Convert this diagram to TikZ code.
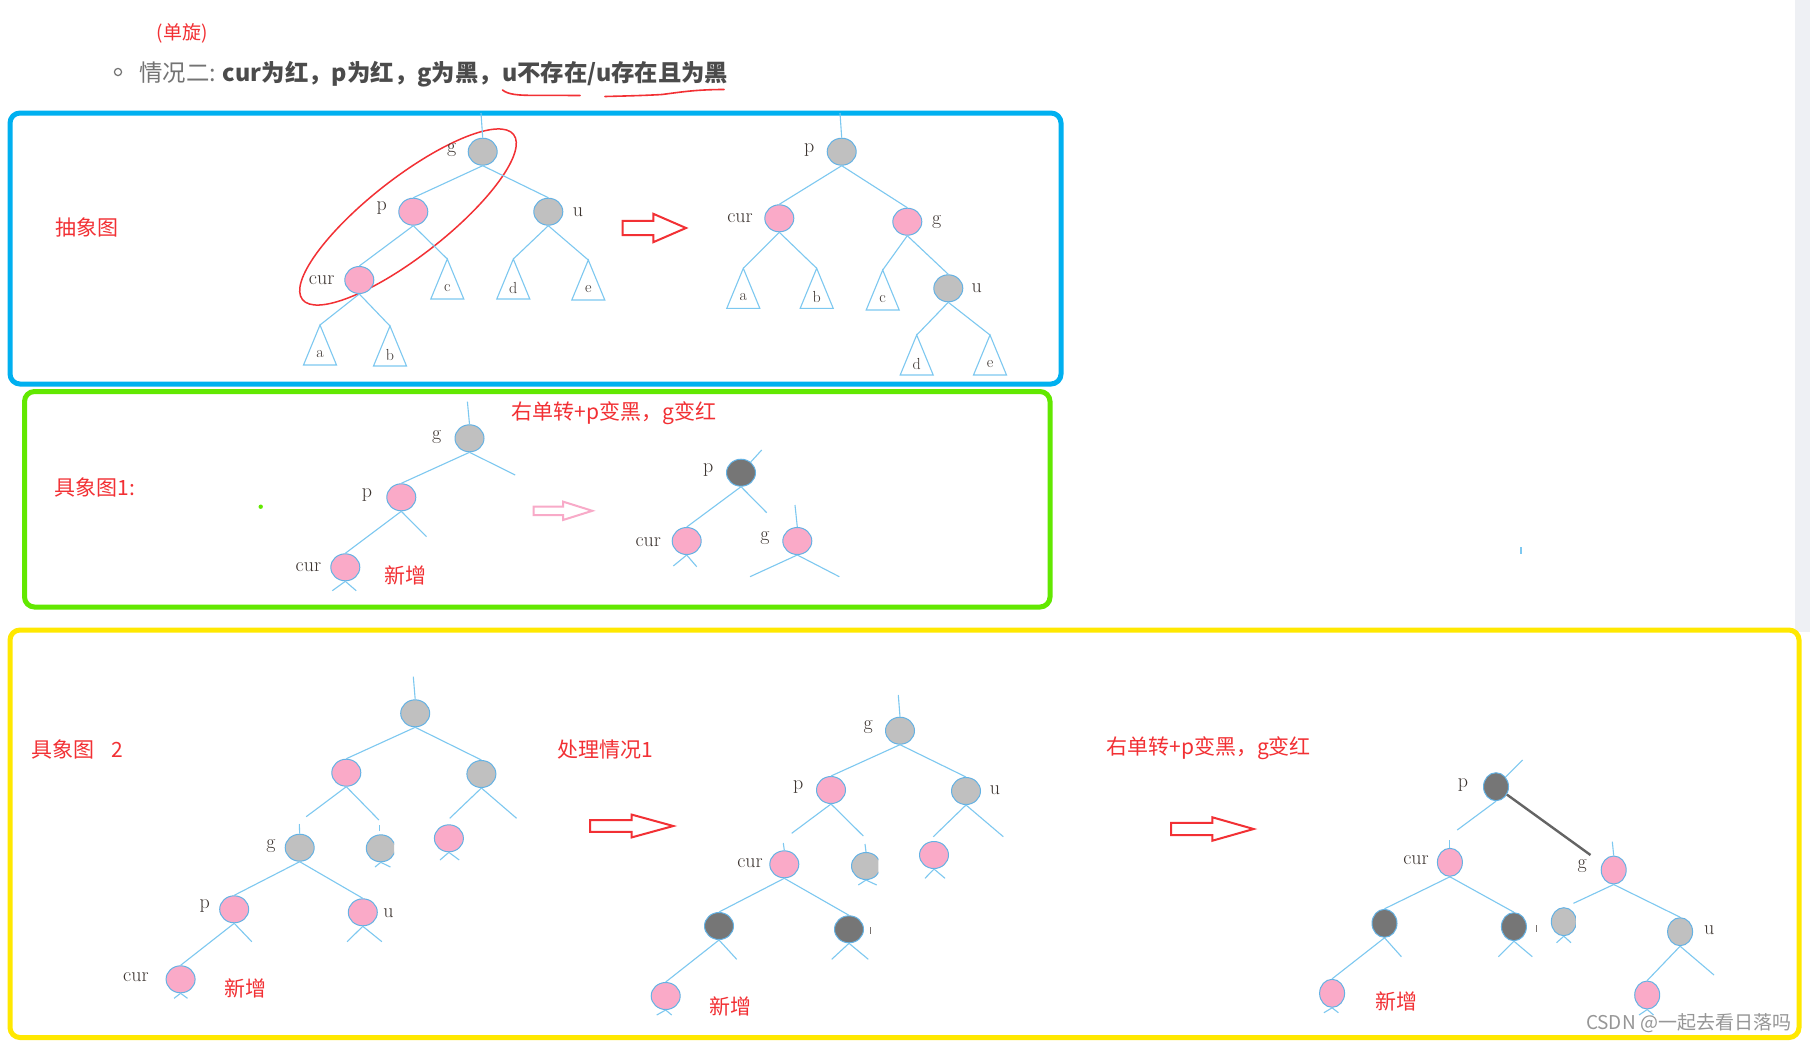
\documentclass[tikz,border=0pt]{standalone}
\usepackage{fontspec}
\newfontfamily\cjk{Noto Sans CJK SC}
\usetikzlibrary{shapes.geometric}
\definecolor{redc}{RGB}{242,48,52}
\definecolor{bluefr}{RGB}{0,176,240}
\definecolor{greenfr}{RGB}{98,232,0}
\definecolor{yellowfr}{RGB}{255,232,0}
\definecolor{edgeblue}{RGB}{125,200,240}
\definecolor{nodeborder}{RGB}{100,178,228}
\definecolor{nodegrey}{RGB}{192,192,192}
\definecolor{nodepink}{RGB}{250,170,200}
\definecolor{nodedark}{RGB}{118,118,118}
\definecolor{labelc}{RGB}{60,52,48}
\definecolor{hdrlight}{RGB}{115,115,115}
\definecolor{hdrdark}{RGB}{75,75,75}
\definecolor{stripc}{RGB}{238,240,244}
\definecolor{wmark}{RGB}{150,150,150}
\definecolor{pinkarrow}{RGB}{248,170,200}
\tikzset{
  tedge/.style={draw=edgeblue, line width=1.1pt},
  rbnode/.style={ellipse, draw=nodeborder, line width=1pt, inner sep=0pt, minimum width=29pt, minimum height=27pt},
  gnode/.style={rbnode, fill=nodegrey},
  pnode/.style={rbnode, fill=nodepink},
  dnode/.style={rbnode, fill=nodedark},
  narrow/.style={minimum width=25pt, minimum height=28pt},
  lbl/.style={font=\fontsize{20}{23}\selectfont, text=labelc, inner sep=0pt},
  tlbl/.style={font=\fontsize{16}{18}\selectfont, text=labelc, inner sep=0pt},
  redtxt/.style={font=\cjk\fontsize{21}{24}\selectfont, text=redc, inner sep=0pt},
  boxframe/.style={rounded corners=10pt, line width=5pt},
  harrow/.style={draw=redc, line width=2pt, fill=white, line join=miter},
}
% triangle subtree: name, apex x, apex y, label
\newcommand{\subtri}[4]{%
  \coordinate (#1) at (#2,#3);
  \draw[tedge] (#1) -- ++(-16.5,40) -- ++(33,0) -- cycle;
  \node[tlbl] (#1-l) at (#2,#3+29) {#4};}
% free edge from a node's bottom: name, node, x,y
\newcommand{\twig}[3]{%
  \coordinate (#1) at (#3);
  \draw[tedge] (#2.south) -- (#1);}
% hollow block arrow: x0, xh, xt, yc, body half, head half, colour
\newcommand{\blockarrow}[7]{%
  \draw[harrow, draw=#7] (#1,#4-#5) -- (#2,#4-#5) -- (#2,#4-#6) -- (#3,#4) -- (#2,#4+#6) -- (#2,#4+#5) -- (#1,#4+#5) -- cycle;}
\begin{document}
\begin{tikzpicture}[x=1pt,y=-1pt]
\useasboundingbox (0,0) rectangle (1810,1042);
\fill[white] (0,0) rectangle (1810,1042);
\fill[stripc] (1795,0) rectangle (1810,632);

% ---------------- header ----------------
\node[font=\cjk\fontsize{19}{22}\selectfont, text=redc, inner sep=0pt] (title) at (182,33) {(单旋)};
\draw[hdrlight, line width=1.2pt] (118,72) circle[radius=3.6pt];
\node[anchor=west, font=\cjk\fontsize{23.4}{26}\selectfont, inner sep=0pt] (case) at (139,74)
  {{\color{hdrlight}情况二:} {\bfseries\color{hdrdark}cur为红，p为红，g为黑，u不存在/u存在且为黑}};
\draw[redc, line width=1.6pt, line cap=round] (502.5,90) .. controls (508,94.5) and (518,95.5) .. (535,95.3) -- (580,95.5);
\draw[redc, line width=1.6pt, line cap=round] (605,96.5) .. controls (625,96) and (645,95.5) .. (662,94.5) .. controls (678,92.5) and (695,89.5) .. (724,89.5);

% ---------------- frames ----------------
\draw[boxframe, draw=bluefr] (10,113) rectangle (1061,384);
\draw[boxframe, draw=greenfr] (24.5,391.5) rectangle (1050,607);
\draw[boxframe, draw=yellowfr] (10,630) rectangle (1799,1037.5);

% ---------------- blue: abstract ----------------
\node[redtxt] (abs) at (87,227) {抽象图};
\draw[redc, line width=1.5pt, rotate around={38:(408,217)}] (408,217) ellipse [x radius=134pt, y radius=39pt];

\coordinate (B1top) at (481,113);
\node[gnode] (B1g) at (482.7,151.7) {};
\node[pnode] (B1p) at (413.3,211.7) {};
\node[gnode] (B1u) at (548.3,211.7) {};
\node[pnode] (B1cur) at (359.3,280) {};
\node[lbl] (B1gl) at (451.7,150) {g};
\node[lbl] (B1pl) at (381.7,208) {p};
\node[lbl] (B1ul) at (578,211.7) {u};
\node[lbl] (B1curl) at (321.7,280) {cur};
\subtri{B1a}{320}{325}{a}
\subtri{B1b}{390}{326}{b}
\subtri{B1c}{447.3}{259}{c}
\subtri{B1d}{513.3}{259}{d}
\subtri{B1e}{588.3}{260}{e}
\draw[tedge] (B1top) -- (B1g.north);
\draw[tedge] (B1g.south) -- (B1p.north);
\draw[tedge] (B1g.south) -- (B1u.north);
\draw[tedge] (B1p.south) -- (B1cur.north);
\draw[tedge] (B1p.south) -- (B1c);
\draw[tedge] (B1u.south) -- (B1d);
\draw[tedge] (B1u.south) -- (B1e);
\draw[tedge] (B1cur.south) -- (B1a);
\draw[tedge] (B1cur.south) -- (B1b);

\blockarrow{622.7}{653.3}{686}{228}{7.2}{14.2}{redc}

\coordinate (B2top) at (840,113);
\node[gnode] (B2p) at (841.7,151.7) {};
\node[pnode] (B2cur) at (779.3,218.3) {};
\node[pnode] (B2g) at (907.3,221.7) {};
\node[gnode] (B2u) at (948.3,288.3) {};
\node[lbl] (B2pl) at (809.3,150) {p};
\node[lbl] (B2curl) at (740,218.3) {cur};
\node[lbl] (B2gl) at (936.7,221.7) {g};
\node[lbl] (B2ul) at (976.7,288.3) {u};
\subtri{B2a}{743.3}{268.3}{a}
\subtri{B2b}{816.7}{268.3}{b}
\subtri{B2c}{882.7}{270}{c}
\subtri{B2d}{916.7}{335}{d}
\subtri{B2e}{990}{335}{e}
\draw[tedge] (B2top) -- (B2p.north);
\draw[tedge] (B2p.south) -- (B2cur.north);
\draw[tedge] (B2p.south) -- (B2g.north);
\draw[tedge] (B2cur.south) -- (B2a);
\draw[tedge] (B2cur.south) -- (B2b);
\draw[tedge] (B2g.south) -- (B2c);
\draw[tedge] (B2g.south) -- (B2u.north);
\draw[tedge] (B2u.south) -- (B2d);
\draw[tedge] (B2u.south) -- (B2e);

% ---------------- green: concrete 1 ----------------
\node[redtxt] (con1) at (95,487.5) {具象图1:};
\fill[greenfr] (260.7,506.7) circle[radius=2.2pt];
\node[redtxt] (rot1) at (614,413) {右单转+p变黑，g变红};
\node[redtxt] (new1) at (405,575) {新增};

\coordinate (G1top) at (467.4,401.7);
\node[gnode] (G1g) at (469.5,438.3) {};
\node[pnode] (G1p) at (401.3,497.3) {};
\node[pnode] (G1cur) at (345.3,567.3) {};
\node[lbl] (G1gl) at (436.7,436.7) {g};
\node[lbl] (G1pl) at (367.1,495) {p};
\node[lbl] (G1curl) at (308.4,566.7) {cur};
\draw[tedge] (G1top) -- (G1g.north);
\draw[tedge] (G1g.south) -- (G1p.north);
\twig{G1gr}{G1g}{515.2,475}
\draw[tedge] (G1p.south) -- (G1cur.north);
\twig{G1pr}{G1p}{426.5,536.7}
\twig{G1c1}{G1cur}{332.3,590.7}
\twig{G1c2}{G1cur}{356.2,590.7}

\blockarrow{533.6}{563}{592.3}{510.8}{4.2}{9.2}{pinkarrow}

\node[dnode] (G2p) at (741,472.7) {};
\node[pnode] (G2cur) at (686.7,541) {};
\node[pnode] (G2g) at (797.3,541) {};
\node[lbl] (G2pl) at (708.3,470) {p};
\node[lbl] (G2curl) at (648.3,541.7) {cur};
\node[lbl] (G2gl) at (765,538.3) {g};
\coordinate (G2pt) at (761.7,450);
\draw[tedge] (G2p) -- (G2pt);
\draw[tedge] (G2p.south) -- (G2cur.north);
\twig{G2pr}{G2p}{766.7,512.7}
\twig{G2c1}{G2cur}{673.3,566}
\twig{G2c2}{G2cur}{696.7,566.7}
\coordinate (G2gt) at (795,505);
\draw[tedge] (G2gt) -- (G2g.north);
\twig{G2g1}{G2g}{750,576.7}
\twig{G2g2}{G2g}{839.3,576.7}

% ---------------- yellow: concrete 2 ----------------
\node[redtxt] (con2) at (77,749) {具象图\hspace{17pt}2};
\node[redtxt] (case1) at (605.5,750) {处理情况1};
\node[redtxt] (rot2) at (1208.7,748.3) {右单转+p变黑，g变红};
\node[redtxt] (new2) at (245,988.3) {新增};
\node[redtxt] (new3) at (730,1006) {新增};
\node[redtxt] (new4) at (1396.6,1001.7) {新增};
\node[font=\cjk\fontsize{19}{22}\selectfont, text=wmark, inner sep=0pt] (wm) at (1688.5,1023.3) {CSDN @一起去看日落吗};

% left tree
\coordinate (Y1top) at (413.3,676.7);
\node[gnode] (Y1r) at (415.2,713.3) {};
\node[pnode] (Y1L) at (346.3,772.7) {};
\node[gnode] (Y1R) at (481.4,774) {};
\draw[tedge] (Y1top) -- (Y1r.north);
\draw[tedge] (Y1r.south) -- (Y1L.north);
\draw[tedge] (Y1r.south) -- (Y1R.north);
\twig{Y1L1}{Y1L}{306.2,816.7}
\twig{Y1L2}{Y1L}{378.9,820}
\twig{Y1R1}{Y1R}{449.7,818.3}
\twig{Y1R2}{Y1R}{516.6,818.3}
\node[pnode] (Y1pk) at (448.9,838.3) {};
\twig{Y1pk1}{Y1pk}{440,860}
\twig{Y1pk2}{Y1pk}{459.2,860}
\node[gnode] (Y1g) at (299.7,847.7) {};
\node[lbl] (Y1gl) at (271,845.7) {g};
\coordinate (Y1gs) at (299.3,824);
\draw[tedge] (Y1gs) -- (Y1g.north);
\begin{scope}
  \clip (360,820) rectangle (394.2,880);
  \node[gnode] (Y1h) at (380.8,848.3) {};
\end{scope}
\coordinate (Y1hs) at (379.5,825);
\draw[tedge] (Y1hs) -- ++(0,6);
\twig{Y1h1}{Y1h}{375,867}
\twig{Y1h2}{Y1h}{390.4,867}
\node[pnode] (Y1p) at (234.2,909.3) {};
\node[pnode] (Y1u) at (362.8,912.3) {};
\node[lbl] (Y1pl) at (204.7,906) {p};
\node[lbl] (Y1ul) at (388.4,912.7) {u};
\draw[tedge] (Y1g.south) -- (Y1p.north);
\draw[tedge] (Y1g.south) -- (Y1u.north);
\node[pnode] (Y1cur) at (180.6,979.3) {};
\node[lbl] (Y1curl) at (135.9,977.3) {cur};
\draw[tedge] (Y1p.south) -- (Y1cur.north);
\twig{Y1p2}{Y1p}{251.8,941.7}
\twig{Y1u1}{Y1u}{347.1,941.7}
\twig{Y1u2}{Y1u}{381.9,941.7}
\twig{Y1c1}{Y1cur}{174.1,998.3}
\twig{Y1c2}{Y1cur}{187.5,998.3}

\blockarrow{590}{631.7}{673.3}{826}{5.8}{11.4}{redc}

% middle tree
\coordinate (Y2top) at (898.3,695);
\node[gnode] (Y2g) at (900,730.7) {};
\node[pnode] (Y2p) at (831,790) {};
\node[gnode] (Y2u) at (966,791) {};
\node[lbl] (Y2gl) at (868.3,726.7) {g};
\node[lbl] (Y2pl) at (798.3,786.7) {p};
\node[lbl] (Y2ul) at (995,790) {u};
\draw[tedge] (Y2top) -- (Y2g.north);
\draw[tedge] (Y2g.south) -- (Y2p.north);
\draw[tedge] (Y2g.south) -- (Y2u.north);
\twig{Y2p1}{Y2p}{791.7,833.3}
\twig{Y2p2}{Y2p}{863.3,836}
\twig{Y2u1}{Y2u}{933.3,836.7}
\twig{Y2u2}{Y2u}{1003.3,836.7}
\node[pnode] (Y2cur) at (784.3,864.3) {};
\node[lbl] (Y2curl) at (750,862.7) {cur};
\coordinate (Y2cs) at (783.3,843);
\draw[tedge] (Y2cs) -- (Y2cur.north);
\begin{scope}
  \clip (845,840) rectangle (878.3,890);
  \node[gnode] (Y2h) at (866,866) {};
\end{scope}
\coordinate (Y2hs) at (865,844);
\draw[tedge] (Y2hs) -- (Y2h.north);
\twig{Y2h1}{Y2h}{858.3,885}
\twig{Y2h2}{Y2h}{876.7,885}
\node[pnode] (Y2pk) at (934,855) {};
\twig{Y2pk1}{Y2pk}{925,878.3}
\twig{Y2pk2}{Y2pk}{945,878.3}
\node[dnode] (Y2d1) at (719,926) {};
\node[dnode] (Y2d2) at (849,929.3) {};
\draw[tedge] (Y2cur.south) -- (Y2d1.north);
\draw[tedge] (Y2cur.south) -- (Y2d2.north);
\draw[labelc!70, line width=1pt] (870,927) -- (870,934);
\node[pnode] (Y2bp) at (665.7,996) {};
\draw[tedge] (Y2d1.south) -- (Y2bp.north);
\twig{Y2d12}{Y2d1}{736.7,959.3}
\twig{Y2d21}{Y2d2}{831.7,959.3}
\twig{Y2d22}{Y2d2}{868.3,959.3}
\twig{Y2b1}{Y2bp}{656.7,1015}
\twig{Y2b2}{Y2bp}{671.7,1015}

\blockarrow{1171.2}{1212.4}{1253.6}{829}{6.2}{11.7}{redc}

% right tree
\node[dnode, narrow] (Y3p) at (1496,786.7) {};
\node[lbl] (Y3pl) at (1463,785) {p};
\coordinate (Y3pt) at (1522.6,760);
\draw[tedge] (Y3p) -- (Y3pt);
\twig{Y3p1}{Y3p}{1457.2,830}
\coordinate (Y3gx) at (1590.5,855);
\draw[nodedark!85!black, line width=2.4pt] (Y3p) -- (Y3gx);
\node[pnode, narrow] (Y3cur) at (1449.9,862.3) {};
\node[lbl] (Y3curl) at (1416,860) {cur};
\coordinate (Y3cs) at (1449.9,840);
\draw[tedge] (Y3cs) -- (Y3cur.north);
\node[pnode, narrow] (Y3g) at (1613.7,870) {};
\node[lbl] (Y3gl) at (1582.2,866) {g};
\coordinate (Y3gs) at (1612.3,841.7);
\draw[tedge] (Y3gs) -- (Y3g.north);
\node[dnode, narrow] (Y3d1) at (1384.5,923.3) {};
\node[dnode, narrow] (Y3d2) at (1513.9,926.7) {};
\draw[tedge] (Y3cur.south) -- (Y3d1.north);
\draw[tedge] (Y3cur.south) -- (Y3d2.north);
\draw[labelc!70, line width=1pt] (1536.2,925) -- (1536.2,932);
\twig{Y3g1}{Y3g}{1573.5,903.3}
\node[gnode, narrow] (Y3u) at (1680.1,931.7) {};
\node[lbl] (Y3ul) at (1709.2,930) {u};
\draw[tedge] (Y3g.south) -- (Y3u.north);
\begin{scope}
  \clip (1545,900) rectangle (1575.9,950);
  \node[gnode, narrow] (Y3h) at (1563.8,921.7) {};
\end{scope}
\twig{Y3h1}{Y3h}{1556.5,942.7}
\twig{Y3h2}{Y3h}{1571,942.7}
\node[pnode, narrow] (Y3bp) at (1332.1,993.3) {};
\draw[tedge] (Y3d1.south) -- (Y3bp.north);
\twig{Y3d12}{Y3d1}{1401.4,956.7}
\twig{Y3d21}{Y3d2}{1498.4,956.7}
\twig{Y3d22}{Y3d2}{1532.3,956.7}
\node[pnode, narrow] (Y3up) at (1647.2,995) {};
\draw[tedge] (Y3u.south) -- (Y3up.north);
\twig{Y3u2}{Y3u}{1714,975}
\twig{Y3b1}{Y3bp}{1323.9,1012.7}
\twig{Y3b2}{Y3bp}{1338.4,1012.7}
\twig{Y3up1}{Y3up}{1639,1015}
\twig{Y3up2}{Y3up}{1653.5,1015}
\draw[edgeblue, line width=1.2pt] (1521,547) -- (1521,554);
\end{tikzpicture}
\end{document}
